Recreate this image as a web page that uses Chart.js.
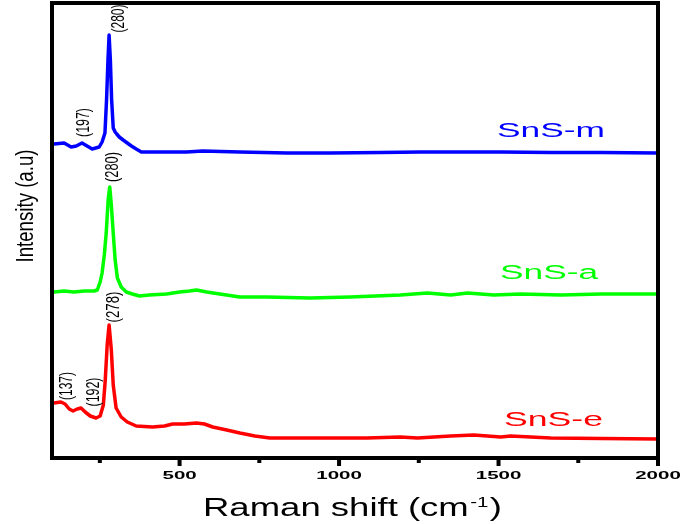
<!DOCTYPE html>
<html><head><meta charset="utf-8">
<script src="https://cdn.jsdelivr.net/npm/chart.js@4.4.1/dist/chart.umd.min.js"></script>
<style>html,body{margin:0;padding:0;background:#fff;overflow:hidden}canvas{display:block}</style>
</head><body>
<canvas id="c" width="685" height="524"></canvas>
<script>
// ---- data (Raman shift in cm^-1, intensity in arbitrary units, curves offset) ----
const seriesNames = ['SnS-m', 'SnS-a', 'SnS-e'];

const shiftM = [106,138,160,176,194,210,226,248,257,266,271,275.5,279,283,287,292,298,303,311,323,336,349,364,380,437,522,572,689,837,972,1129,1255,1359,1507,1664,1822,2000];
const intensityM = [628,630,622,624,630,624,618,622,632,650,716,796,846,796,716,660,652,648,642,636,630,624,618,612,612,612,614,612,610,610,611,612,612,612,611,611,610];

const shiftA = [106,138,169,201,232,242,251,257,264,270,276,281,286,292,298,305,317,333,352,374,405,459,500,531,553,585,626,689,774,909,1035,1192,1277,1350,1403,1485,1570,1696,1822,2000];
const intensityA = [332,334,332,334,334,336,352,370,406,450,516,542,506,450,396,360,342,332,328,324,326,328,332,334,336,332,328,322,322,320,322,326,330,326,330,326,328,326,328,328];

const shiftE = [106,128,141,154,166,179,191,204,220,238,251,261,267,273,279,286,292,301,317,336,364,415,453,478,515,553,578,604,648,689,736,783,931,1088,1192,1246,1350,1422,1507,1538,1664,1822,2000];
const intensityE = [110,112,108,98,94,98,100,92,84,80,84,106,156,226,266,216,146,100,82,72,64,62,64,68,68,70,68,62,56,50,44,40,40,40,42,40,44,46,42,44,40,39,38];

const majorTicks = [500, 1000, 1500, 2000];
const minorTicks = [250, 750, 1250, 1750];
const peakLabelsM = ['(197)', '(280)'];
const peakLabelsA = ['(280)'];
const peakLabelsE = ['(137)', '(192)', '(278)'];
const xTitle = 'Raman shift (cm';
const xTitleSup = '-1';
const yTitle = 'Intensity (a.u)';

const colors = ['#0000ff', '#00ff00', '#ff0000'];
const FONT = "'Liberation Sans', Arial, Helvetica, sans-serif";

function pts(xs, ys) { return xs.map((x, i) => ({x: x, y: ys[i]})); }

function stretchText(ctx, text, x, y, o) {
  ctx.save();
  ctx.font = o.font;
  ctx.fillStyle = o.color || '#000';
  const w = ctx.measureText(text).width;
  const s = o.width ? o.width / w : (o.scale || 1);
  ctx.translate(x, y);
  if (o.rotate) ctx.rotate(-Math.PI / 2);
  ctx.scale(s, 1);
  ctx.textAlign = o.align || 'center';
  ctx.textBaseline = o.baseline || 'middle';
  ctx.fillText(text, 0, 0);
  ctx.restore();
}

const decor = {
  id: 'decor',
  afterDatasetsDraw(chart) {
    const ctx = chart.ctx;
    const a = chart.chartArea;
    const xs = chart.scales.x;
    // frame
    ctx.save();
    ctx.strokeStyle = '#000';
    ctx.lineWidth = 4;
    ctx.strokeRect(a.left, a.top, a.right - a.left, a.bottom - a.top);
    // ticks
    ctx.lineCap = 'butt';
    majorTicks.forEach(v => {
      const px = xs.getPixelForValue(v);
      ctx.beginPath(); ctx.moveTo(px, a.bottom); ctx.lineTo(px, a.bottom + 8); ctx.stroke();
    });
    minorTicks.forEach(v => {
      const px = xs.getPixelForValue(v);
      ctx.beginPath(); ctx.moveTo(px, a.bottom); ctx.lineTo(px, a.bottom + 5); ctx.stroke();
    });
    ctx.restore();
    // tick labels
    majorTicks.forEach(v => {
      stretchText(ctx, String(v), xs.getPixelForValue(v), 478.5,
        {font: 'bold 10px ' + FONT, scale: 2.05, baseline: 'alphabetic'});
    });
    // x title with superscript
    ctx.save();
    const mainF = '25px ' + FONT, supF = '14px ' + FONT;
    ctx.font = mainF; const w1 = ctx.measureText(xTitle).width; const w3 = ctx.measureText(')').width;
    ctx.font = supF; const w2 = ctx.measureText(xTitleSup).width;
    const total = w1 + w2 + 2 + w3;
    const s = 299 / total;
    ctx.translate(203, 516);
    ctx.scale(s, 1);
    ctx.fillStyle = '#000';
    ctx.textBaseline = 'alphabetic';
    ctx.textAlign = 'left';
    ctx.font = mainF; ctx.fillText(xTitle, 0, 0);
    ctx.font = supF; ctx.fillText(xTitleSup, w1 + 1, -9);
    ctx.font = mainF; ctx.fillText(')', w1 + w2 + 2, 0);
    ctx.restore();
    // y title
    stretchText(ctx, yTitle, 32.5, 206, {font: '23px ' + FONT, width: 113, rotate: true, baseline: 'alphabetic'});
    // series labels
    stretchText(ctx, seriesNames[0], 551, 137, {font: '20px ' + FONT, width: 108, color: colors[0], baseline: 'alphabetic'});
    stretchText(ctx, seriesNames[1], 549, 279, {font: '20px ' + FONT, width: 98, color: colors[1], baseline: 'alphabetic'});
    stretchText(ctx, seriesNames[2], 553.5, 426, {font: '20px ' + FONT, width: 99, color: colors[2], baseline: 'alphabetic'});
    // peak labels (rotated)
    const pf = '18px ' + FONT;
    stretchText(ctx, peakLabelsM[0], 84, 122.5, {font: pf, width: 29, rotate: true});
    stretchText(ctx, peakLabelsM[1], 119.5, 18.5, {font: pf, width: 28, rotate: true});
    stretchText(ctx, peakLabelsA[0], 113, 167, {font: pf, width: 30, rotate: true});
    stretchText(ctx, peakLabelsE[0], 67, 386, {font: pf, width: 28, rotate: true});
    stretchText(ctx, peakLabelsE[1], 94, 392, {font: pf, width: 29, rotate: true});
    stretchText(ctx, peakLabelsE[2], 114.5, 307, {font: pf, width: 31, rotate: true});
  }
};

new Chart(document.getElementById('c'), {
  type: 'line',
  data: {
    datasets: [
      {label: seriesNames[0], data: pts(shiftM, intensityM), borderColor: colors[0]},
      {label: seriesNames[1], data: pts(shiftA, intensityA), borderColor: colors[1]},
      {label: seriesNames[2], data: pts(shiftE, intensityE), borderColor: colors[2]}
    ].map(d => Object.assign(d, {borderWidth: 3.5, pointRadius: 0, tension: 0, fill: false, borderJoinStyle: 'round'}))
  },
  options: {
    responsive: false,
    devicePixelRatio: 1,
    animation: false,
    layout: {padding: {left: 52, right: 27, top: 3, bottom: 66}},
    plugins: {legend: {display: false}, tooltip: {enabled: false}},
    scales: {
      x: {type: 'linear', min: 100, max: 2000, display: false},
      y: {type: 'linear', min: 0, max: 910, display: false}
    }
  },
  plugins: [decor]
});
</script>
</body></html>
